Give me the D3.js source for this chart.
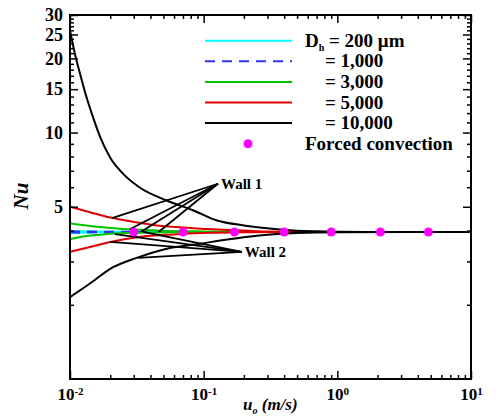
<!DOCTYPE html>
<html><head><meta charset="utf-8">
<script src="https://cdn.jsdelivr.net/npm/d3@7"></script>
<style>
body{margin:0;background:#fff;}
text{font-family:"Liberation Serif","Times New Roman",serif;font-weight:bold;fill:#000;}
</style>
</head><body>
<svg id="chart" width="498" height="420"></svg>
<script>
// ---------- DATA ----------
const xMajorTicks = [0.01, 0.1, 1, 10];
const xMinorTicks = [0.02,0.03,0.04,0.05,0.06,0.07,0.08,0.09,0.2,0.3,0.4,0.5,0.6,0.7,0.8,0.9,2,3,4,5,6,7,8,9];
const yMajorTicks = [5, 10, 15, 20, 25, 30];
const yMinorTicks = [2,3,4,6,7,8,9,11,12,13,14,16,17,18,19,21,22,23,24,26,27,28,29];

const seriesLabels = ["= 200 \u03bcm", "= 1,000", "= 3,000", "= 5,000", "= 10,000"];
const seriesColors = ["#00ffff", "#2f2fff", "#00c400", "#e00000", "#000000"];
const forcedLabel = "Forced convection";

// [u (m/s), Nu] pairs, upper (wall 1) and lower (wall 2) branches
const dh200Wall1 = [[0.01,3.99],[0.015,3.97],[0.03,3.955],[0.1,3.95],[10,3.95]];
const dh200Wall2 = [[0.01,3.91],[0.015,3.93],[0.03,3.945],[0.1,3.95],[10,3.95]];
const dh1000Wall1 = [[0.01,3.97],[0.02,3.96],[0.05,3.95],[10,3.95]];
const dh1000Wall2 = [[0.01,3.93],[0.02,3.94],[0.05,3.95],[10,3.95]];
const dh3000Wall1 = [[0.01,4.29],[0.0119,4.23],[0.0168,4.14],[0.0237,4.07],[0.047,4.0],[0.1,3.97],[0.3,3.95],[10,3.95]];
const dh3000Wall2 = [[0.01,3.69],[0.0119,3.77],[0.0168,3.85],[0.0237,3.9],[0.047,3.935],[0.1,3.95],[10,3.95]];
const dh5000Wall1 = [[0.01,5.0],[0.0141,4.75],[0.02,4.52],[0.025,4.42],[0.045,4.2],[0.079,4.1],[0.14,4.03],[0.25,3.98],[0.5,3.96],[1,3.95],[10,3.95]];
const dh5000Wall2 = [[0.01,3.28],[0.0141,3.43],[0.02,3.6],[0.033,3.77],[0.06,3.86],[0.1,3.91],[0.2,3.94],[0.5,3.95],[10,3.95]];
const dh10000Wall1 = [[0.01,26],[0.0109,20.8],[0.0119,17.3],[0.0133,13.9],[0.0149,11.5],[0.0168,9.6],[0.02,7.9],[0.025,6.8],[0.033,6.0],[0.053,5.3],[0.084,4.83],[0.126,4.4],[0.2,4.2],[0.31,4.08],[0.5,4.0],[1,3.96],[2,3.95],[10,3.95]];
const dh10000Wall2 = [[0.01,2.15],[0.0141,2.44],[0.02,2.8],[0.0315,3.1],[0.053,3.38],[0.094,3.54],[0.15,3.68],[0.26,3.82],[0.5,3.91],[1,3.94],[10,3.95]];

const forcedU  = [0.03, 0.07, 0.17, 0.4, 0.9, 2.1, 4.8];
const forcedNu = [3.95, 3.95, 3.95, 3.95, 3.95, 3.95, 3.95];

const wall1Anchor = [0.128, 6.2];
const wall1Targets = [[0.0206,4.5],[0.028,4.05],[0.034,3.955],[0.046,3.95]];
const wall2Anchor = [0.193, 3.28];
const wall2Targets = [[0.0199,3.6],[0.0217,3.87],[0.0352,3.95],[0.0323,3.1]];

// ---------- CHART ----------
const svg = d3.select("#chart");
const L = 70, R = 471, T = 15, B = 379;
const x = d3.scaleLog().domain([0.01, 10]).range([L, R]);
const y = d3.scaleLog().domain([1, 30]).range([B, T]);

svg.append("defs").append("clipPath").attr("id","clip")
  .append("rect").attr("x",L).attr("y",T).attr("width",R-L).attr("height",B-T);

const curves = [
  [dh200Wall1, dh200Wall2], [dh1000Wall1, dh1000Wall2], [dh3000Wall1, dh3000Wall2],
  [dh5000Wall1, dh5000Wall2], [dh10000Wall1, dh10000Wall2]
];
const line = d3.line().x(d => x(d[0])).y(d => y(d[1])).curve(d3.curveMonotoneX);
const plot = svg.append("g").attr("clip-path","url(#clip)");
curves.forEach((pair, i) => {
  pair.forEach(data => {
    plot.append("path").attr("d", line(data)).attr("fill","none")
      .attr("stroke", seriesColors[i]).attr("stroke-width", 2)
      .attr("stroke-dasharray", i === 1 ? "10,7" : null);
  });
});

// annotations
function annot(anchor, targets, label) {
  targets.forEach(t => {
    svg.append("line").attr("x1", x(anchor[0])).attr("y1", y(anchor[1]))
      .attr("x2", x(t[0])).attr("y2", y(t[1]))
      .attr("stroke","#000").attr("stroke-width",1.8);
  });
  svg.append("text").attr("x", x(anchor[0]) + 3).attr("y", y(anchor[1]) + 5.5)
    .attr("font-size", 15).text(label);
}
annot(wall1Anchor, wall1Targets, "Wall 1");
annot(wall2Anchor, wall2Targets, "Wall 2");

// forced convection dots
svg.append("g").selectAll("circle").data(forcedU).join("circle")
  .attr("cx", (d) => x(d)).attr("cy", (d, i) => y(forcedNu[i])).attr("r", 4.5)
  .attr("fill", "#ff00ff");

// axes
function styleAxis(g) {
  g.selectAll("line").attr("stroke","#000").attr("stroke-width",1.5);
  g.select(".domain").remove();
}
// bottom
const gB = svg.append("g").attr("transform",`translate(0,${B})`);
gB.call(d3.axisBottom(x).tickValues(xMinorTicks).tickSizeInner(-4).tickSizeOuter(0).tickFormat("")).call(styleAxis);
const gBM = svg.append("g").attr("transform",`translate(0,${B})`);
gBM.call(d3.axisBottom(x).tickValues(xMajorTicks).tickSizeInner(-8).tickSizeOuter(0).tickPadding(9).tickFormat(""))
  .call(styleAxis);
gBM.selectAll(".tick text").each(function(d){
  const t = d3.select(this).attr("font-size",17).attr("font-family",null).attr("fill","#000");
  t.append("tspan").text("10");
  t.append("tspan").attr("dy","-0.45em").attr("font-size",11).text(String(Math.round(Math.log10(d))));
});
// top
svg.append("g").attr("transform",`translate(0,${T})`)
  .call(d3.axisTop(x).tickValues(xMinorTicks).tickSizeInner(-4).tickSizeOuter(0).tickFormat("")).call(styleAxis);
svg.append("g").attr("transform",`translate(0,${T})`)
  .call(d3.axisTop(x).tickValues(xMajorTicks).tickSizeInner(-8).tickSizeOuter(0).tickFormat("")).call(styleAxis);
// left
svg.append("g").attr("transform",`translate(${L},0)`)
  .call(d3.axisLeft(y).tickValues(yMinorTicks).tickSizeInner(-4).tickSizeOuter(0).tickFormat("")).call(styleAxis);
const gLM = svg.append("g").attr("transform",`translate(${L},0)`);
gLM.call(d3.axisLeft(y).tickValues(yMajorTicks).tickSizeInner(-8).tickSizeOuter(0).tickPadding(7).tickFormat(d3.format("d")))
  .call(styleAxis);
gLM.selectAll(".tick text").attr("font-size",18).attr("font-family",null).attr("fill","#000");
// right
svg.append("g").attr("transform",`translate(${R},0)`)
  .call(d3.axisRight(y).tickValues(yMinorTicks).tickSizeInner(-4).tickSizeOuter(0).tickFormat("")).call(styleAxis);
svg.append("g").attr("transform",`translate(${R},0)`)
  .call(d3.axisRight(y).tickValues(yMajorTicks).tickSizeInner(-8).tickSizeOuter(0).tickFormat("")).call(styleAxis);

// frame
svg.append("rect").attr("x",L).attr("y",T).attr("width",R-L).attr("height",B-T)
  .attr("fill","none").attr("stroke","#000").attr("stroke-width",2);

// axis titles
const xt = svg.append("text").attr("x",243).attr("y",410).attr("font-size",17).attr("font-style","italic");
xt.append("tspan").text("u");
xt.append("tspan").attr("font-size",10).attr("dy",4).text("o");
xt.append("tspan").attr("dy",-4).text(" (m/s)");

svg.append("text").attr("transform","translate(28,196) rotate(-90)")
  .attr("text-anchor","middle").attr("font-size",21).attr("font-style","italic").text("Nu");

// legend
const lgX1 = 205, lgX2 = 292, lgY0 = 40.7, lgStep = 20.6;
seriesLabels.forEach((lab, i) => {
  const ly = lgY0 + i * lgStep;
  svg.append("line").attr("x1",lgX1).attr("x2",lgX2).attr("y1",ly).attr("y2",ly)
    .attr("stroke",seriesColors[i]).attr("stroke-width",2)
    .attr("stroke-dasharray", i === 1 ? "10,7" : null);
  if (i === 0) {
    const t = svg.append("text").attr("x",305).attr("y",ly+6).attr("font-size",19);
    t.append("tspan").text("D");
    t.append("tspan").attr("font-size",10).attr("dy",4).text("h");
    t.append("tspan").attr("dy",-4).text(" " + lab);
  } else {
    svg.append("text").attr("x",325).attr("y",ly+6).attr("font-size",19).text(lab);
  }
});
const fy = lgY0 + seriesLabels.length * lgStep;
svg.append("circle").attr("cx",248).attr("cy",fy).attr("r",4.5).attr("fill","#ff00ff");
svg.append("text").attr("x",305).attr("y",fy+6).attr("font-size",19).text(forcedLabel);
</script>
</body></html>
